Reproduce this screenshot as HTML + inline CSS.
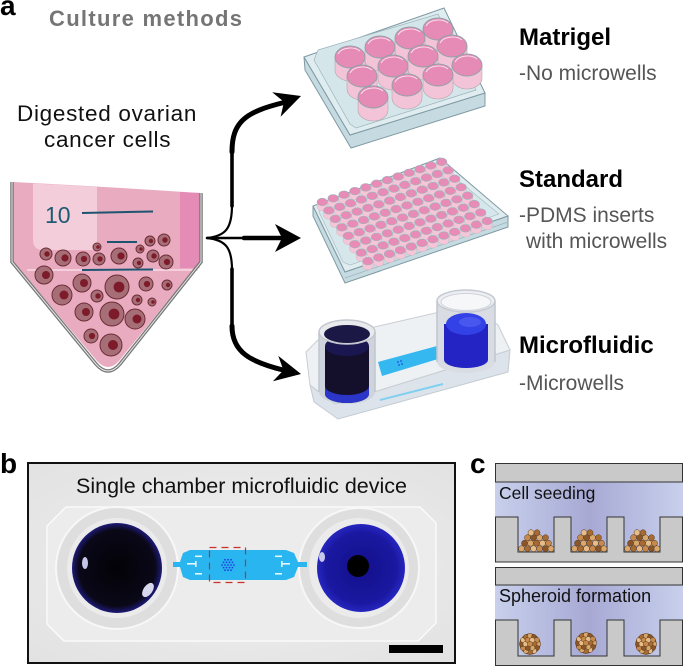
<!DOCTYPE html>
<html><head><meta charset="utf-8">
<style>
html,body{margin:0;padding:0;background:#fff;}
svg{display:block;}
text{font-family:"Liberation Sans",Arial,sans-serif;}
</style></head><body>
<svg width="685" height="666" viewBox="0 0 685 666" xmlns="http://www.w3.org/2000/svg">
<defs>
  <linearGradient id="liq" x1="0" y1="0" x2="1" y2="0">
    <stop offset="0" stop-color="#c8d0ec"/>
    <stop offset="0.5" stop-color="#a7a9d4"/>
    <stop offset="1" stop-color="#c8d0ec"/>
  </linearGradient>
  <radialGradient id="darkwell" cx="0.5" cy="0.5" r="0.5">
    <stop offset="0" stop-color="#030206"/>
    <stop offset="0.85" stop-color="#0a0818"/>
    <stop offset="1" stop-color="#1e1a78"/>
  </radialGradient>
  <radialGradient id="bluewell" cx="0.5" cy="0.5" r="0.5">
    <stop offset="0" stop-color="#12108a"/>
    <stop offset="0.8" stop-color="#1a18a0"/>
    <stop offset="1" stop-color="#2626c0"/>
  </radialGradient>
  <radialGradient id="photo" cx="0.5" cy="0.5" r="0.7">
    <stop offset="0" stop-color="#f0f0f0"/>
    <stop offset="1" stop-color="#e2e2e2"/>
  </radialGradient>
  <g id="w12">
    <path d="M-15,0 L-15,13 A15,11 0 0 0 15,13 L15,0 Z" fill="#f3c4d7" stroke="#b6a6ae" stroke-width="0.6"/>
    <ellipse cx="0" cy="0" rx="15" ry="11" fill="#e68bb5" stroke="#8ea2a9" stroke-width="0.9"/>
    <path d="M-12,-3 A13,9 0 0 1 10,-6" fill="none" stroke="#fff" stroke-width="0.9" opacity="0.8"/>
  </g>
  <g id="w96">
    <path d="M-5.2,0 L-5.2,5 A5.2,3.8 0 0 0 5.2,5 L5.2,0 Z" fill="#f5c6d8" stroke="#c7b4bc" stroke-width="0.4"/>
    <ellipse cx="0" cy="0" rx="5.2" ry="3.8" fill="#e88bb6" stroke="#9fb4bb" stroke-width="0.6"/>
  </g>
  <g id="row96">
    <use href="#w96" x="119.35" y="-40.15"/>
    <use href="#w96" x="108.5" y="-36.5"/>
    <use href="#w96" x="97.65" y="-32.85"/>
    <use href="#w96" x="86.8" y="-29.2"/>
    <use href="#w96" x="75.95" y="-25.55"/>
    <use href="#w96" x="65.1" y="-21.9"/>
    <use href="#w96" x="54.25" y="-18.25"/>
    <use href="#w96" x="43.4" y="-14.6"/>
    <use href="#w96" x="32.55" y="-10.95"/>
    <use href="#w96" x="21.7" y="-7.3"/>
    <use href="#w96" x="10.85" y="-3.65"/>
    <use href="#w96" x="0" y="0"/>
  </g>
  <g id="heap" stroke="#5a3a1a" stroke-width="0.5">
    <circle cx="3.5" cy="-3.3" r="3" fill="#d9a86c"/>
    <circle cx="9.5" cy="-3.3" r="3" fill="#a66a32"/>
    <circle cx="15.5" cy="-3.3" r="3" fill="#e6bd8a"/>
    <circle cx="21.5" cy="-3.3" r="3" fill="#c78a4c"/>
    <circle cx="27.5" cy="-3.3" r="3" fill="#8a5628"/>
    <circle cx="33" cy="-3.3" r="3" fill="#d9a86c"/>
    <circle cx="6.5" cy="-8.8" r="3" fill="#8a5628"/>
    <circle cx="12.5" cy="-8.8" r="3" fill="#d9a86c"/>
    <circle cx="18.5" cy="-8.8" r="3" fill="#a66a32"/>
    <circle cx="24.5" cy="-8.8" r="3" fill="#e6bd8a"/>
    <circle cx="30.5" cy="-8.8" r="3" fill="#c78a4c"/>
    <circle cx="9.5" cy="-14.3" r="3" fill="#c78a4c"/>
    <circle cx="15.5" cy="-14.3" r="3" fill="#8a5628"/>
    <circle cx="21.5" cy="-14.3" r="3" fill="#d9a86c"/>
    <circle cx="27.5" cy="-14.3" r="3" fill="#a66a32"/>
    <circle cx="13" cy="-19.3" r="3" fill="#e6bd8a"/>
    <circle cx="19" cy="-19.3" r="3" fill="#a66a32"/>
  </g>
  <g id="sph" stroke="#5a3a1a" stroke-width="0.5">
    <circle cx="0" cy="0" r="10.3" fill="#b07a40"/>
    <circle cx="8" cy="0" r="2.6" fill="#d9a86c"/>
    <circle cx="6.9" cy="4" r="2.6" fill="#8a5628"/>
    <circle cx="4" cy="6.9" r="2.6" fill="#e6bd8a"/>
    <circle cx="0" cy="8" r="2.6" fill="#a66a32"/>
    <circle cx="-4" cy="6.9" r="2.6" fill="#d9a86c"/>
    <circle cx="-6.9" cy="4" r="2.6" fill="#c78a4c"/>
    <circle cx="-8" cy="0" r="2.6" fill="#8a5628"/>
    <circle cx="-6.9" cy="-4" r="2.6" fill="#e6bd8a"/>
    <circle cx="-4" cy="-6.9" r="2.6" fill="#a66a32"/>
    <circle cx="0" cy="-8" r="2.6" fill="#d9a86c"/>
    <circle cx="4" cy="-6.9" r="2.6" fill="#8a5628"/>
    <circle cx="6.9" cy="-4" r="2.6" fill="#c78a4c"/>
    <circle cx="4.5" cy="0" r="2.6" fill="#a66a32"/>
    <circle cx="2.25" cy="3.9" r="2.6" fill="#d9a86c"/>
    <circle cx="-2.25" cy="3.9" r="2.6" fill="#8a5628"/>
    <circle cx="-4.5" cy="0" r="2.6" fill="#e6bd8a"/>
    <circle cx="-2.25" cy="-3.9" r="2.6" fill="#c78a4c"/>
    <circle cx="2.25" cy="-3.9" r="2.6" fill="#e6bd8a"/>
    <circle cx="0" cy="0" r="2.6" fill="#c78a4c"/>
  </g>
</defs>

<!-- ===== Panel a labels ===== -->
<text x="0" y="15" font-size="28" font-weight="bold" fill="#000">a</text>
<text x="49" y="26" font-size="22" font-weight="bold" fill="#757575" letter-spacing="1.3">Culture methods</text>
<text x="17" y="121" font-size="22.5" fill="#111" letter-spacing="0.7">Digested ovarian</text>
<text x="44" y="147" font-size="22.5" fill="#111" letter-spacing="0.7">cancer cells</text>

<!-- ===== Tube ===== -->
<path d="M13.5,182 Q110,187 199.5,193 L199.5,262 L119,361 Q108,373 97,361 L13.5,262 Z" fill="#e9abbf"/>
<path d="M33,183.5 Q65,185 97,187 L97,250 L43,250 Q33,250 33,240 Z" fill="#f3cdd9"/>
<path d="M180,192 L199.5,193 L199.5,268 L180,268 Z" fill="#e48cb5"/>
<line x1="27" y1="270" x2="198" y2="270" stroke="#f7dde6" stroke-width="1.5"/>
<path d="M12,182 L12,262 L96,364 Q108,378 120,364 L201,262 L201,193" fill="none" stroke="#777" stroke-width="3.5"/>
<path d="M12,182 L12,262 L96,364 Q108,378 120,364 L201,262 L201,193" fill="none" stroke="#e6e6e6" stroke-width="1"/>
<text x="45" y="223" font-size="23" fill="#1d5a74">10</text>
<line x1="82" y1="213" x2="153" y2="211.5" stroke="#1d5570" stroke-width="2"/>
<line x1="107" y1="242" x2="137" y2="242" stroke="#1d5570" stroke-width="2"/>
<line x1="82" y1="270" x2="153" y2="269.5" stroke="#1d5570" stroke-width="2"/>
<g stroke="#6d2c36" stroke-width="1" fill="#a66e76">
  <circle cx="150" cy="241" r="5"/><circle cx="164" cy="240" r="6"/><circle cx="97" cy="247" r="4"/>
  <circle cx="140" cy="249" r="4"/><circle cx="46" cy="254" r="6"/><circle cx="63" cy="258" r="8"/>
  <circle cx="83" cy="259" r="7"/><circle cx="99" cy="259" r="6"/><circle cx="119" cy="256" r="8"/>
  <circle cx="153" cy="256" r="6"/><circle cx="138" cy="263" r="5"/><circle cx="166" cy="262" r="7"/>
  <circle cx="44" cy="275" r="9"/><circle cx="82" cy="283" r="9"/><circle cx="117" cy="287" r="12"/>
  <circle cx="146" cy="284" r="7"/><circle cx="167" cy="285" r="5"/><circle cx="62" cy="295" r="10"/>
  <circle cx="97" cy="296" r="6"/><circle cx="137" cy="300" r="5"/><circle cx="152" cy="302" r="4"/>
  <circle cx="84" cy="312" r="9"/><circle cx="112" cy="314" r="12"/><circle cx="135" cy="319" r="10"/>
  <circle cx="91" cy="336" r="7"/><circle cx="111" cy="345" r="11"/>
</g>
<g fill="#7d1b2a">
  <circle cx="151" cy="241" r="2.2"/><circle cx="165" cy="240" r="2.7"/><circle cx="98" cy="247" r="1.8"/>
  <circle cx="141" cy="249" r="1.8"/><circle cx="47" cy="254" r="2.7"/><circle cx="65" cy="258" r="3.6"/>
  <circle cx="84" cy="259" r="3.1"/><circle cx="100" cy="259" r="2.7"/><circle cx="121" cy="256" r="3.6"/>
  <circle cx="154" cy="256" r="2.7"/><circle cx="139" cy="263" r="2.2"/><circle cx="167" cy="262" r="3.1"/>
  <circle cx="46" cy="275" r="4"/><circle cx="84" cy="283" r="4"/><circle cx="119" cy="287" r="5.4"/>
  <circle cx="147" cy="284" r="3.1"/><circle cx="168" cy="285" r="2.2"/><circle cx="64" cy="295" r="4.5"/>
  <circle cx="98" cy="296" r="2.7"/><circle cx="138" cy="300" r="2.2"/><circle cx="153" cy="302" r="1.8"/>
  <circle cx="86" cy="312" r="4"/><circle cx="114" cy="314" r="5.4"/><circle cx="137" cy="319" r="4.5"/>
  <circle cx="92" cy="336" r="3.1"/><circle cx="113" cy="345" r="5"/>
</g>

<!-- ===== Arrows ===== -->
<g fill="none" stroke="#000" stroke-linecap="round">
  <path d="M207,238 C226,236 232,228 232,205" stroke-width="2.2"/>
  <path d="M232,206 L232,150" stroke-width="3.6"/>
  <path d="M232,152 C232,122 245,112 284,102.5" stroke-width="5"/>
  <path d="M207,238 L245,238" stroke-width="2.5"/>
  <path d="M244,238 L284,238" stroke-width="4.5"/>
  <path d="M207,238 C226,240 232,248 232,270" stroke-width="2.2"/>
  <path d="M232,269 L232,328" stroke-width="3.6"/>
  <path d="M232,326 C232,352 250,362 285,370.5" stroke-width="5"/>
</g>
<polygon points="301,96 272.2,92.2 284,101.9 280.6,116.8" fill="#000"/>
<polygon points="301,238 275,224 282,238 275,252" fill="#000"/>
<polygon points="301,374 278.3,355.9 283.4,370.3 272.9,381.3" fill="#000"/>

<!-- ===== Plate 1 (12-well) ===== -->
<polygon points="304,57 350,135 485,93 485,106 351,148 305,70" fill="#c6dbe1" stroke="#7f9aa3" stroke-width="1"/>
<polygon points="304,57 444,8 485,93 350,135" fill="#dfecf0" stroke="#7f9aa3" stroke-width="1"/>
<polygon points="318,50 438,14 476,90 356,128 350,124 314,60" fill="#d5e6eb" stroke="#9cb4bb" stroke-width="0.7"/>
<use href="#w12" x="438" y="29"/>
<use href="#w12" x="410" y="38"/>
<use href="#w12" x="380" y="47"/>
<use href="#w12" x="452" y="46"/>
<use href="#w12" x="423" y="56"/>
<use href="#w12" x="350" y="57"/>
<use href="#w12" x="467" y="65"/>
<use href="#w12" x="393" y="66"/>
<use href="#w12" x="438" y="75"/>
<use href="#w12" x="362" y="76"/>
<use href="#w12" x="407" y="85"/>
<use href="#w12" x="373" y="97"/>

<!-- ===== Plate 2 (96-well) ===== -->
<polygon points="313,206 345,272 508,216 508,227 345,283 313,216" fill="#c6dbe1" stroke="#7f9aa3" stroke-width="1"/>
<line x1="345" y1="278" x2="508" y2="222" stroke="#9cb4bb" stroke-width="0.7"/>
<polygon points="313,206 440,158 508,216 345,272" fill="#dfecf0" stroke="#7f9aa3" stroke-width="1"/>
<polygon points="322,203 437,163 499,214 350,265 343,262 319,212" fill="#d6e7ec" stroke="#a2b8bf" stroke-width="0.6"/>
<use href="#row96" x="322.3" y="202"/>
<use href="#row96" x="328.8" y="210.45"/>
<use href="#row96" x="335.3" y="218.9"/>
<use href="#row96" x="341.8" y="227.35"/>
<use href="#row96" x="348.3" y="235.8"/>
<use href="#row96" x="354.8" y="244.25"/>
<use href="#row96" x="361.3" y="252.7"/>
<use href="#row96" x="367.8" y="261.15"/>

<!-- ===== Microfluidic device photo ===== -->
<polygon points="310,385 335,404 510,350 508,372 338,419 314,402" fill="#dde3ea" stroke="#c2cad2" stroke-width="1"/>
<line x1="380" y1="400" x2="443" y2="384" stroke="#5ac8f2" stroke-width="2" opacity="0.7"/>
<polygon points="306,352 318,340 470,305 498,325 510,350 335,404 310,385" fill="#eef1f4" stroke="#c8ced4" stroke-width="1"/>
<polygon points="378,362 437,346 438,359 382,376" fill="#35b8f0"/>
<g fill="#1e50e0"><circle cx="398" cy="362" r="0.9"/><circle cx="401" cy="361" r="0.9"/><circle cx="399" cy="365" r="0.9"/><circle cx="402" cy="364" r="0.9"/></g>
<!-- right cylinder -->
<path d="M437,301 L437,362 A29,11 0 0 0 495,362 L495,301 Z" fill="#d9dde3"/>
<path d="M444,324 L444,360 A22,8 0 0 0 488,360 L488,324 Z" fill="#2424c4"/>
<ellipse cx="466" cy="324" rx="20" ry="11" fill="#3342e6"/>
<ellipse cx="470" cy="322" rx="11" ry="5" fill="#4d5cf0" opacity="0.8"/>
<ellipse cx="466" cy="301" rx="29" ry="11" fill="#eceef2" stroke="#c5cad2" stroke-width="1.5"/>
<ellipse cx="466" cy="302" rx="25" ry="8.5" fill="#f6f7f9" stroke="#d0d4da" stroke-width="1"/>
<path d="M437,301 L437,362 M495,301 L495,362" stroke="#c0c6ce" stroke-width="1.5"/>
<!-- left cylinder -->
<path d="M319,332 L319,392 A28,12 0 0 0 375,392 L375,332 Z" fill="#cfd4dc"/>
<path d="M325,346 L325,394 A22,9 0 0 0 369,394 L369,346 Z" fill="#14102c"/>
<path d="M325,386 L325,394 A22,9 0 0 0 369,394 L369,386 A22,9 0 0 1 325,386 Z" fill="#2b36c8"/>
<ellipse cx="347" cy="346" rx="22" ry="10" fill="#1a1650"/>
<ellipse cx="347" cy="332" rx="28" ry="12" fill="#e8eaee" stroke="#c3c8d0" stroke-width="1.5"/>
<ellipse cx="347" cy="334" rx="23" ry="9" fill="#1c1845"/>
<path d="M319,332 L319,392 M375,332 L375,392" stroke="#c0c6ce" stroke-width="1.5"/>

<!-- ===== Right-side text ===== -->
<text x="519" y="45" font-size="24" font-weight="bold" fill="#000">Matrigel</text>
<text x="519" y="80" font-size="21" fill="#555">-No microwells</text>
<text x="519" y="187" font-size="24" font-weight="bold" fill="#000">Standard</text>
<text x="519" y="222" font-size="21" fill="#555">-PDMS inserts</text>
<text x="526" y="248" font-size="21" fill="#555">with microwells</text>
<text x="519" y="353" font-size="24" font-weight="bold" fill="#000">Microfluidic</text>
<text x="519" y="390" font-size="21" fill="#555">-Microwells</text>

<!-- ===== Panel b ===== -->
<text x="0" y="473" font-size="28" font-weight="bold" fill="#000">b</text>
<rect x="28" y="463" width="427" height="200" fill="url(#photo)"/>
<path d="M66,507 L420,507 L436,523 L436,623 L418,641 L64,641 L47,624 L47,526 Z" fill="#ececec" stroke="#fafafa" stroke-width="1.5"/>
<circle cx="117" cy="568" r="61" fill="#dedede" stroke="#f7f7f7" stroke-width="2"/>
<circle cx="117" cy="568" r="50" fill="#ebebeb"/>
<circle cx="117" cy="568" r="45" fill="url(#darkwell)"/>
<ellipse cx="85" cy="563" rx="3" ry="6" fill="#c5c5ea"/>
<ellipse cx="148" cy="590" rx="4.5" ry="8" fill="#d7d7ee" transform="rotate(35 148 590)"/>
<circle cx="359" cy="568" r="60" fill="#dedede" stroke="#f7f7f7" stroke-width="2"/>
<circle cx="359" cy="568" r="50" fill="#ebebeb"/>
<circle cx="361" cy="568" r="44" fill="url(#bluewell)"/>
<circle cx="358" cy="566" r="11" fill="#000"/>
<ellipse cx="322" cy="557" rx="3" ry="5" fill="#c8c8ec"/>
<path d="M173,562 L180,562 L183,553 L190,550 L286,550 L294,553 L298,562 L307,562 L307,567 L298,567 L294,577 L286,580 L190,580 L183,577 L180,567 L173,567 Z" fill="#29b5ef"/>
<g fill="#e8f6fd">
  <rect x="195" y="555.5" width="7" height="1.6"/><rect x="195" y="573" width="7" height="1.6"/>
  <rect x="187" y="563" width="8" height="1.6"/><rect x="195" y="561" width="1.6" height="6"/>
  <rect x="275" y="555.5" width="7" height="1.6"/><rect x="275" y="573" width="7" height="1.6"/>
  <rect x="282" y="563" width="8" height="1.6"/><rect x="281" y="561" width="1.6" height="6"/>
</g>
<g fill="#1e40e0">
  <circle cx="228" cy="565" r="0.9"/><circle cx="231" cy="565" r="0.9"/><circle cx="225" cy="565" r="0.9"/>
  <circle cx="229.5" cy="567.6" r="0.9"/><circle cx="226.5" cy="567.6" r="0.9"/><circle cx="229.5" cy="562.4" r="0.9"/>
  <circle cx="226.5" cy="562.4" r="0.9"/><circle cx="232.5" cy="567.6" r="0.9"/><circle cx="223.5" cy="567.6" r="0.9"/>
  <circle cx="232.5" cy="562.4" r="0.9"/><circle cx="223.5" cy="562.4" r="0.9"/><circle cx="234" cy="565" r="0.9"/>
  <circle cx="222" cy="565" r="0.9"/><circle cx="228" cy="570.2" r="0.9"/><circle cx="231" cy="570.2" r="0.9"/>
  <circle cx="225" cy="570.2" r="0.9"/><circle cx="228" cy="559.8" r="0.9"/><circle cx="231" cy="559.8" r="0.9"/>
  <circle cx="225" cy="559.8" r="0.9"/>
</g>
<rect x="209.5" y="547.5" width="36" height="35" fill="none" stroke="#c8302a" stroke-width="1.2" stroke-dasharray="7,5"/>
<rect x="389" y="645" width="54" height="8" fill="#000"/>
<rect x="28" y="463" width="427" height="200" fill="none" stroke="#111" stroke-width="2"/>
<text x="76" y="493" font-size="21.5" fill="#111">Single chamber microfluidic device</text>

<!-- ===== Panel c ===== -->
<text x="470" y="473" font-size="28" font-weight="bold" fill="#000">c</text>
<rect x="495" y="482" width="188" height="70" fill="url(#liq)"/>
<rect x="495.5" y="463.5" width="187" height="18.5" fill="#c9c9c9" stroke="#333" stroke-width="1"/>
<path d="M495.5,517 L518,517 L518,552 L554,552 L554,517 L571,517 L571,552 L607,552 L607,517 L624,517 L624,552 L660,552 L660,517 L682.5,517 L682.5,562 L495.5,562 Z" fill="#c9c9c9" stroke="#333" stroke-width="1"/>
<use href="#heap" x="518" y="552"/>
<use href="#heap" x="571" y="552"/>
<use href="#heap" x="624" y="552"/>
<text x="499" y="499" font-size="17.5" fill="#111">Cell seeding</text>

<rect x="495" y="585" width="188" height="71" fill="url(#liq)"/>
<rect x="495.5" y="567.5" width="187" height="17.5" fill="#c9c9c9" stroke="#333" stroke-width="1"/>
<path d="M495.5,620 L518,620 L518,656 L554,656 L554,620 L571,620 L571,656 L607,656 L607,620 L624,620 L624,656 L660,656 L660,620 L682.5,620 L682.5,665.5 L495.5,665.5 Z" fill="#c9c9c9" stroke="#333" stroke-width="1"/>
<use href="#sph" x="530" y="644"/>
<use href="#sph" x="586" y="643"/>
<use href="#sph" x="646" y="644"/>
<text x="499" y="602" font-size="18" fill="#111">Spheroid formation</text>
</svg>
</body></html>
